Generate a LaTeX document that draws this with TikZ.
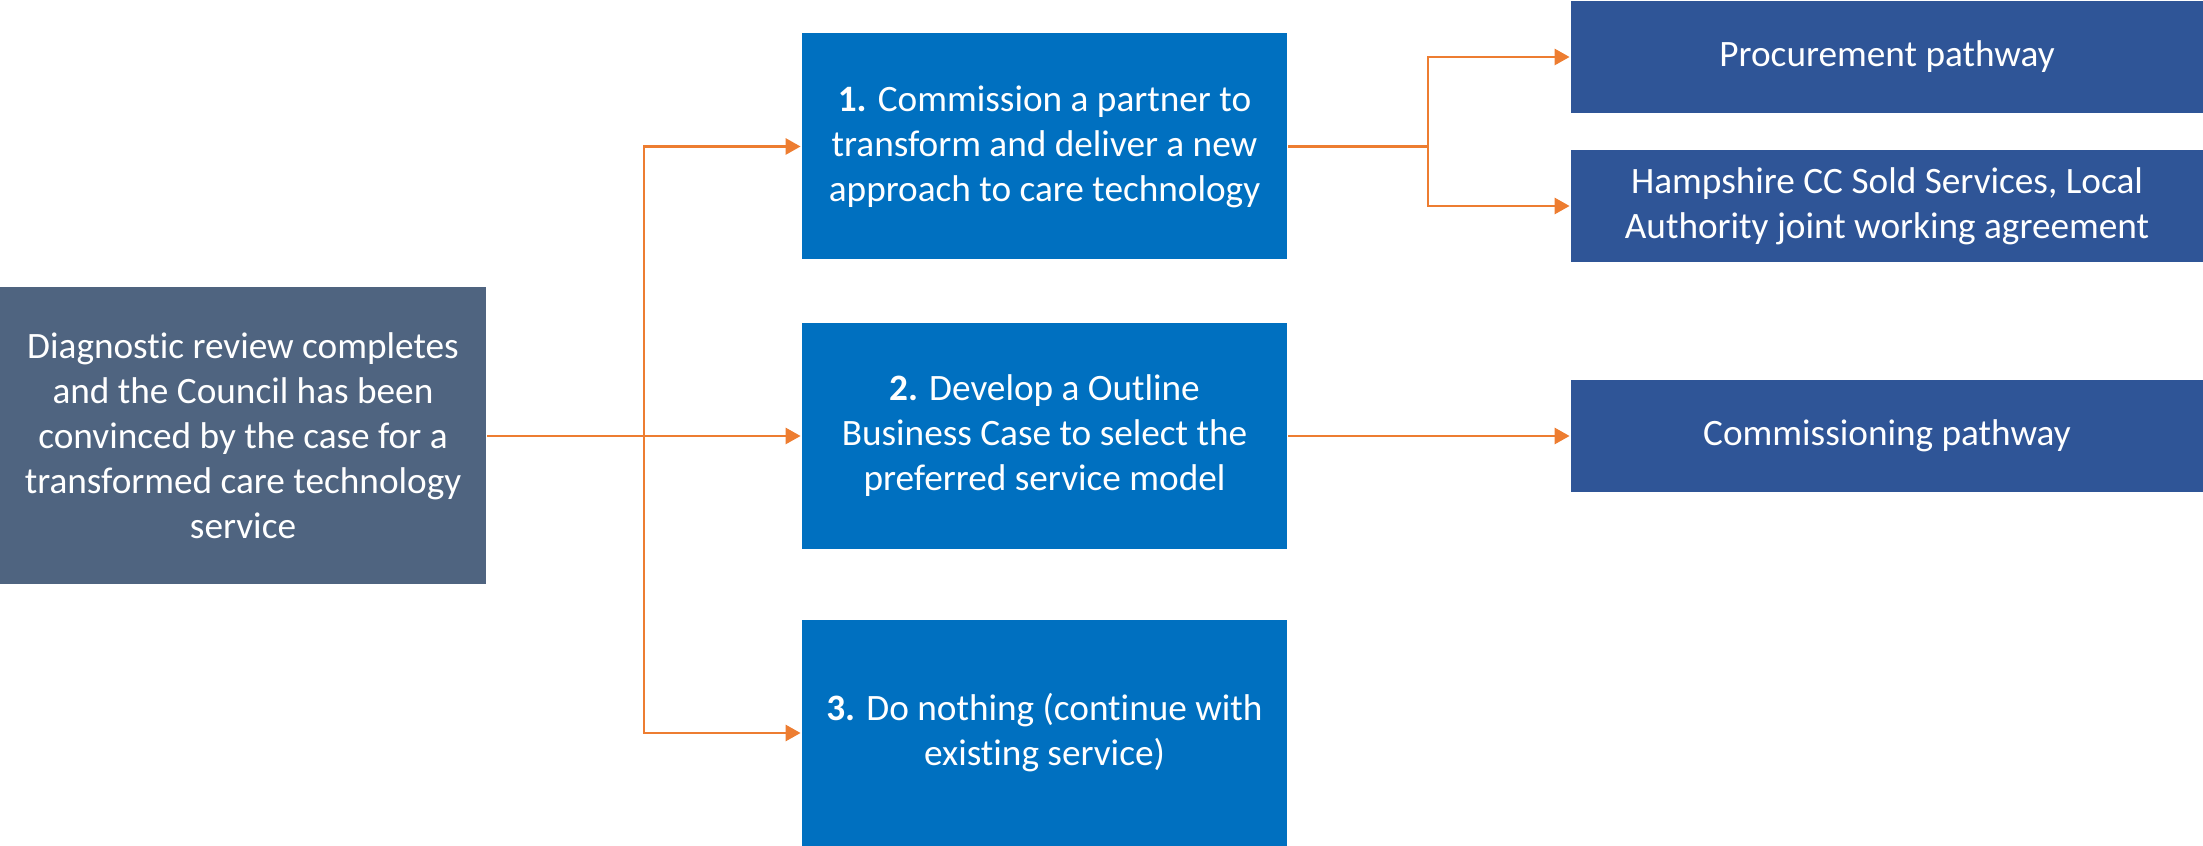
\documentclass[tikz,border=0pt]{standalone}
\usepackage{fontspec}
\setmainfont[Ligatures=NoCommon]{Carlito}
\usetikzlibrary{arrows.meta}
\definecolor{slate}{HTML}{4F6480}
\definecolor{optblue}{HTML}{0070C0}
\definecolor{pathblue}{HTML}{2F5597}
\definecolor{linkorange}{HTML}{ED7D31}
\begin{document}
\begin{tikzpicture}[font=\fontsize{10.6pt}{12.8pt}\selectfont,
                    line width=0.8pt,
                    >={Triangle[length=1.5mm, width=1.6mm]},
                    ]
    \tikzstyle{box}=[rectangle, text=white, align=center, inner sep=0pt]
    \tikzstyle{start}=[box, fill=slate, minimum width=4.86cm, minimum height=2.97cm]
    \tikzstyle{option}=[box, fill=optblue, minimum width=4.85cm, minimum height=2.26cm]
    \tikzstyle{pathway}=[box, fill=pathblue, minimum width=6.32cm, minimum height=1.12cm]
    \tikzstyle{link}=[draw=linkorange]
    \tikzstyle{flow}=[link, ->]

    \useasboundingbox (0,0) rectangle (22.03,8.46);

    \node[start] (diag) at (2.43,4.10) {Diagnostic review completes\\and the Council has been\\convinced by the case for a\\transformed care technology\\service};

    \node[option] (opt1) at (10.445,6.995) {\textbf{1.} Commission a partner to\\transform and deliver a new\\approach to care technology};
    \node[option] (opt2) at (10.445,4.10) {\textbf{2.} Develop a Outline\\Business Case to select the\\preferred service model};
    \node[option] (opt3) at (10.445,1.13) {\textbf{3.} Do nothing (continue with\\existing service)};

    \node[pathway] (proc) at (18.87,7.89) {Procurement pathway};
    \node[pathway] (hamp) at (18.87,6.40) {Hampshire CC Sold Services, Local\\Authority joint working agreement};
    \node[pathway] (comm) at (18.87,4.10) {Commissioning pathway};

    \coordinate (split) at (6.44,4.10);
    \coordinate (fork) at (14.28,6.995);

    \path[flow] (diag) -- (opt2);
    \path[flow] (split) |- (opt1);
    \path[flow] (split) |- (opt3);
    \path[link] (opt1) -- (fork);
    \path[flow] (fork) |- (proc);
    \path[flow] (fork) |- (hamp);
    \path[flow] (opt2) -- (comm);
\end{tikzpicture}
\end{document}
